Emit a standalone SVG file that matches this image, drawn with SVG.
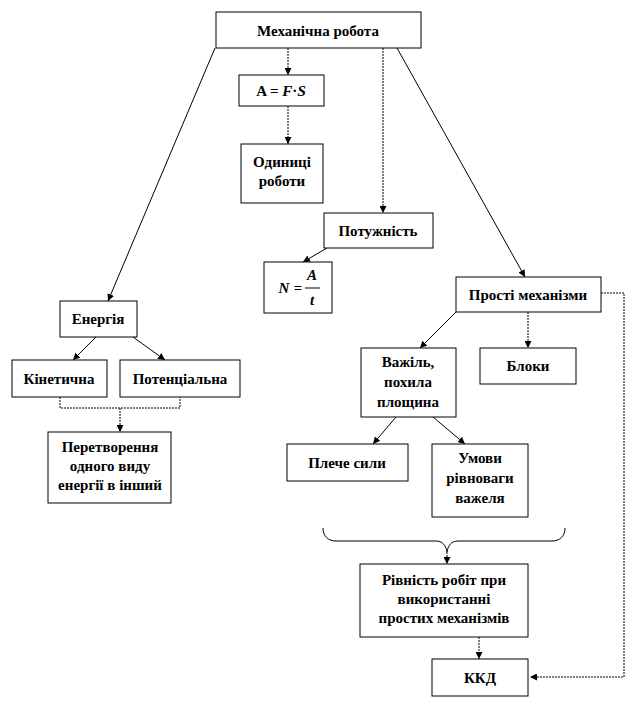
<svg xmlns="http://www.w3.org/2000/svg" width="636" height="708" viewBox="0 0 636 708">
<defs>
<marker id="ah" viewBox="0 0 10 10" refX="10" refY="5" markerWidth="7" markerHeight="7" orient="auto" markerUnits="userSpaceOnUse">
<path d="M0,0 L10,5 L0,10 z" fill="#000"/>
</marker>
</defs>
<style>
.box{fill:#fff;stroke:#000;stroke-width:1}
.t{font-family:"Liberation Serif","Times New Roman",serif;font-weight:bold;font-size:15px;fill:#000;text-anchor:middle}
.c{fill:none;stroke:#000;stroke-width:1}
.d{stroke-dasharray:2 1}
.a{marker-end:url(#ah)}
</style>
<rect width="636" height="708" fill="#fff"/>
<g id="connectors">
<line class="c d a" x1="288" y1="48" x2="288" y2="75"/>
<line class="c d a" x1="288" y1="106" x2="288" y2="144"/>
<line class="c d a" x1="383" y1="48" x2="383" y2="213"/>
<line class="c a" x1="327" y1="248" x2="303" y2="262"/>
<line class="c a" x1="215" y1="48" x2="108" y2="301"/>
<line class="c a" x1="397" y1="48" x2="525" y2="277"/>
<line class="c a" x1="96" y1="337" x2="73" y2="360"/>
<line class="c a" x1="133" y1="337" x2="165" y2="360"/>
<polyline class="c d" points="60,397 60,408 180,408 180,397"/>
<line class="c d a" x1="120" y1="408" x2="120" y2="432"/>
<line class="c a" x1="456" y1="312" x2="420" y2="348"/>
<line class="c d a" x1="528" y1="312" x2="528" y2="348"/>
<polyline class="c d a" points="601,293 624,293 624,677 530,677"/>
<line class="c a" x1="396" y1="417" x2="373" y2="444"/>
<line class="c a" x1="433" y1="417" x2="465" y2="444"/>
<path class="c" d="M323,528 C323,536 328,541 336,541 L436,541 C443,541 446,546 447,552 C448,546 451,541 458,541 L552,541 C560,541 565,536 565,528"/>
<line class="c d a" x1="447" y1="552" x2="447" y2="564"/>
<line class="c d a" x1="479" y1="637" x2="479" y2="659"/>
</g>
<g id="n-main"><rect class="box" x="216" y="12" width="205" height="36"/><text class="t" x="318" y="36">Механічна робота</text></g>
<g id="n-formula-a"><rect class="box" x="239" y="75" width="85" height="31"/><text class="t" x="281" y="96">A = <tspan font-style="italic">F</tspan>·<tspan font-style="italic">S</tspan></text></g>
<g id="n-units"><rect class="box" x="241" y="144" width="82" height="59"/><text class="t" x="282" y="167">Одиниці</text><text class="t" x="282" y="186">роботи</text></g>
<g id="n-power"><rect class="box" x="324" y="213" width="109" height="35"/><text class="t" x="378" y="236">Потужність</text></g>
<g id="n-formula-n"><rect class="box" x="264" y="262" width="68" height="51"/><text class="t" x="284" y="293" font-style="italic" font-size="16">N</text><text class="t" x="298" y="293">=</text><text class="t" x="312" y="280" font-style="italic">A</text><line x1="305" y1="288" x2="320" y2="288" stroke="#000" stroke-width="1"/><text class="t" x="312" y="305" font-style="italic">t</text></g>
<g id="n-energy"><rect class="box" x="60" y="301" width="77" height="36"/><text class="t" x="98" y="324">Енергія</text></g>
<g id="n-kinetic"><rect class="box" x="12" y="360" width="95" height="37"/><text class="t" x="59" y="384">Кінетична</text></g>
<g id="n-potential"><rect class="box" x="120" y="360" width="120" height="37"/><text class="t" x="180" y="384">Потенціальна</text></g>
<g id="n-transform"><rect class="box" x="48" y="432" width="123" height="71"/><text class="t" x="110" y="452">Перетворення</text><text class="t" x="110" y="471">одного виду</text><text class="t" x="110" y="490">енергії в інший</text></g>
<g id="n-simple"><rect class="box" x="456" y="277" width="145" height="35"/><text class="t" x="528" y="300">Прості механізми</text></g>
<g id="n-lever"><rect class="box" x="361" y="348" width="95" height="69"/><text class="t" x="408" y="367">Важіль,</text><text class="t" x="408" y="387">похила</text><text class="t" x="408" y="407">площина</text></g>
<g id="n-blocks"><rect class="box" x="480" y="348" width="96" height="36"/><text class="t" x="528" y="371">Блоки</text></g>
<g id="n-arm"><rect class="box" x="287" y="444" width="121" height="37"/><text class="t" x="347" y="468">Плече сили</text></g>
<g id="n-cond"><rect class="box" x="432" y="444" width="96" height="73"/><text class="t" x="480" y="463">Умови</text><text class="t" x="480" y="483">рівноваги</text><text class="t" x="480" y="503">важеля</text></g>
<g id="n-equal"><rect class="box" x="360" y="564" width="168" height="73"/><text class="t" x="444" y="585">Рівність робіт при</text><text class="t" x="444" y="604">використанні</text><text class="t" x="444" y="623">простих механізмів</text></g>
<g id="n-eff"><rect class="box" x="432" y="659" width="96" height="37"/><text class="t" x="480" y="683">ККД</text></g>
</svg>
